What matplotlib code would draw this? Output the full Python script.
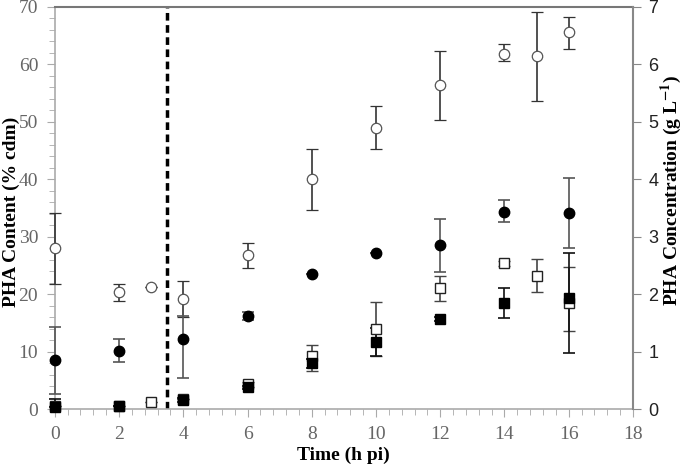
import numpy as np
import matplotlib.pyplot as plt
from matplotlib.ticker import MultipleLocator

# PHA content (% cdm), left axis
t_oc = [0, 2, 3, 4, 6, 8, 10, 12, 14, 15, 16]
oc = [28.0, 20.4, 21.2, 19.2, 26.8, 40.0, 49.0, 56.4, 61.9, 61.4, 65.6]
oc_lo = [6.2, 1.6, 0.0, 3.1, 2.2, 5.3, 3.8, 6.0, 1.3, 7.8, 2.9]
oc_hi = [6.2, 1.4, 0.0, 3.1, 2.2, 5.2, 3.8, 5.9, 1.6, 7.8, 2.7]

t_fc = [0, 2, 4, 6, 8, 10, 12, 14, 16]
fc = [8.5, 10.1, 12.2, 16.2, 23.5, 27.1, 28.5, 34.4, 34.2]
fc_lo = [5.8, 1.9, 6.8, 0.7, 0.0, 0.0, 4.6, 1.9, 6.1]
fc_hi = [5.8, 2.1, 4.0, 0.7, 0.0, 0.0, 4.6, 2.0, 6.0]

# PHA concentration (g/L), right axis
t_os = [0, 2, 3, 4, 6, 8, 10, 12, 14, 15, 16]
os_ = [0.05, 0.06, 0.13, 0.18, 0.43, 0.92, 1.39, 2.11, 2.54, 2.32, 1.84]
os_lo = [0.0, 0.0, 0.0, 0.0, 0.04, 0.25, 0.47, 0.22, 0.04, 0.28, 0.48]
os_hi = [0.0, 0.0, 0.0, 0.0, 0.04, 0.20, 0.47, 0.20, 0.04, 0.30, 0.64]

t_fs = [0, 2, 4, 6, 8, 10, 12, 14, 16]
fs = [0.04, 0.06, 0.16, 0.38, 0.80, 1.17, 1.57, 1.84, 1.93]
fs_lo = [0.0, 0.0, 0.03, 0.03, 0.08, 0.25, 0.04, 0.25, 0.95]
fs_hi = [0.14, 0.0, 0.03, 0.03, 0.08, 0.25, 0.04, 0.27, 0.79]

plt.rcParams['mathtext.fontset'] = 'stix'
serif = ['Liberation Serif', 'DejaVu Serif']
grey = '#888888'

fig = plt.figure(figsize=(6.85, 4.66), dpi=100)
ax = fig.add_axes([0.080, 0.122, 0.844, 0.863])
ax2 = ax.twinx()

ms = 7.5
common = dict(ms=ms, elinewidth=1.2, capsize=4, capthick=1.2, zorder=3, clip_on=False)
ax.errorbar(t_oc, oc, yerr=[oc_lo, oc_hi], fmt='o', mfc='white', mec='#555555',
            mew=0.9, ecolor='#333333', **common)
ax.errorbar(t_fc, fc, yerr=[fc_lo, fc_hi], fmt='o', mfc='black', mec='black',
            ecolor='#555555', **common)
ax2.errorbar(t_os, os_, yerr=[os_lo, os_hi], fmt='s', mfc='white', mec='#222222',
             mew=1.0, ecolor='#444444', **common)
ax2.errorbar(t_fs, fs, yerr=[fs_lo, fs_hi], fmt='s', mfc='black', mec='black',
             ecolor='#111111', **common)

ax.axvline(3.5, color='black', lw=2.5, ls=(0, (2.2, 1.3)), zorder=2)

ax.set_xlim(0, 18)
ax.set_ylim(0, 70)
ax2.set_ylim(0, 7)
ax.xaxis.set_major_locator(MultipleLocator(2))
ax.xaxis.set_minor_locator(MultipleLocator(0.4))
ax.yaxis.set_major_locator(MultipleLocator(10))
ax.yaxis.set_minor_locator(MultipleLocator(2))
ax2.yaxis.set_major_locator(MultipleLocator(1))

for s in ['left', 'bottom']:
    ax.spines[s].set_color('#aaaaaa')
    ax.spines[s].set_linewidth(1.2)
ax.spines['right'].set_visible(False)
ax2.spines['right'].set_color(grey)
ax2.spines['right'].set_linewidth(1.5)
for s in ['left', 'bottom', 'top']:
    ax2.spines[s].set_visible(False)
ax.spines['top'].set_color('#777777')
ax.spines['top'].set_linewidth(1.5)

ax.tick_params(which='both', direction='out', color='#aaaaaa')
ax.tick_params(which='major', length=6, labelsize=14, labelcolor='#666666', pad=6)
ax.tick_params(which='minor', length=4)
ax2.tick_params(which='major', direction='out', length=6, color=grey,
                labelsize=13, labelcolor='#222222', pad=5)
for lab in ax.get_xticklabels() + ax.get_yticklabels():
    lab.set_family(serif)
for lab in ax2.get_yticklabels():
    lab.set_family(['Liberation Sans', 'DejaVu Sans'])

ax.set_xlabel('Time (h pi)', family=serif, fontweight='bold', fontsize=14, labelpad=3)
ax.set_ylabel('PHA Content (% cdm)', family=serif, fontweight='bold', fontsize=14)
ax.yaxis.set_label_coords(-0.06, 0.49)
ax2.set_ylabel('PHA Concentration (g L$^{\\mathbf{-1}}$)', family=serif, fontweight='bold',
               fontsize=14)
ax2.yaxis.set_label_coords(1.044, 0.545)

fig.savefig('out.png', dpi=100)
